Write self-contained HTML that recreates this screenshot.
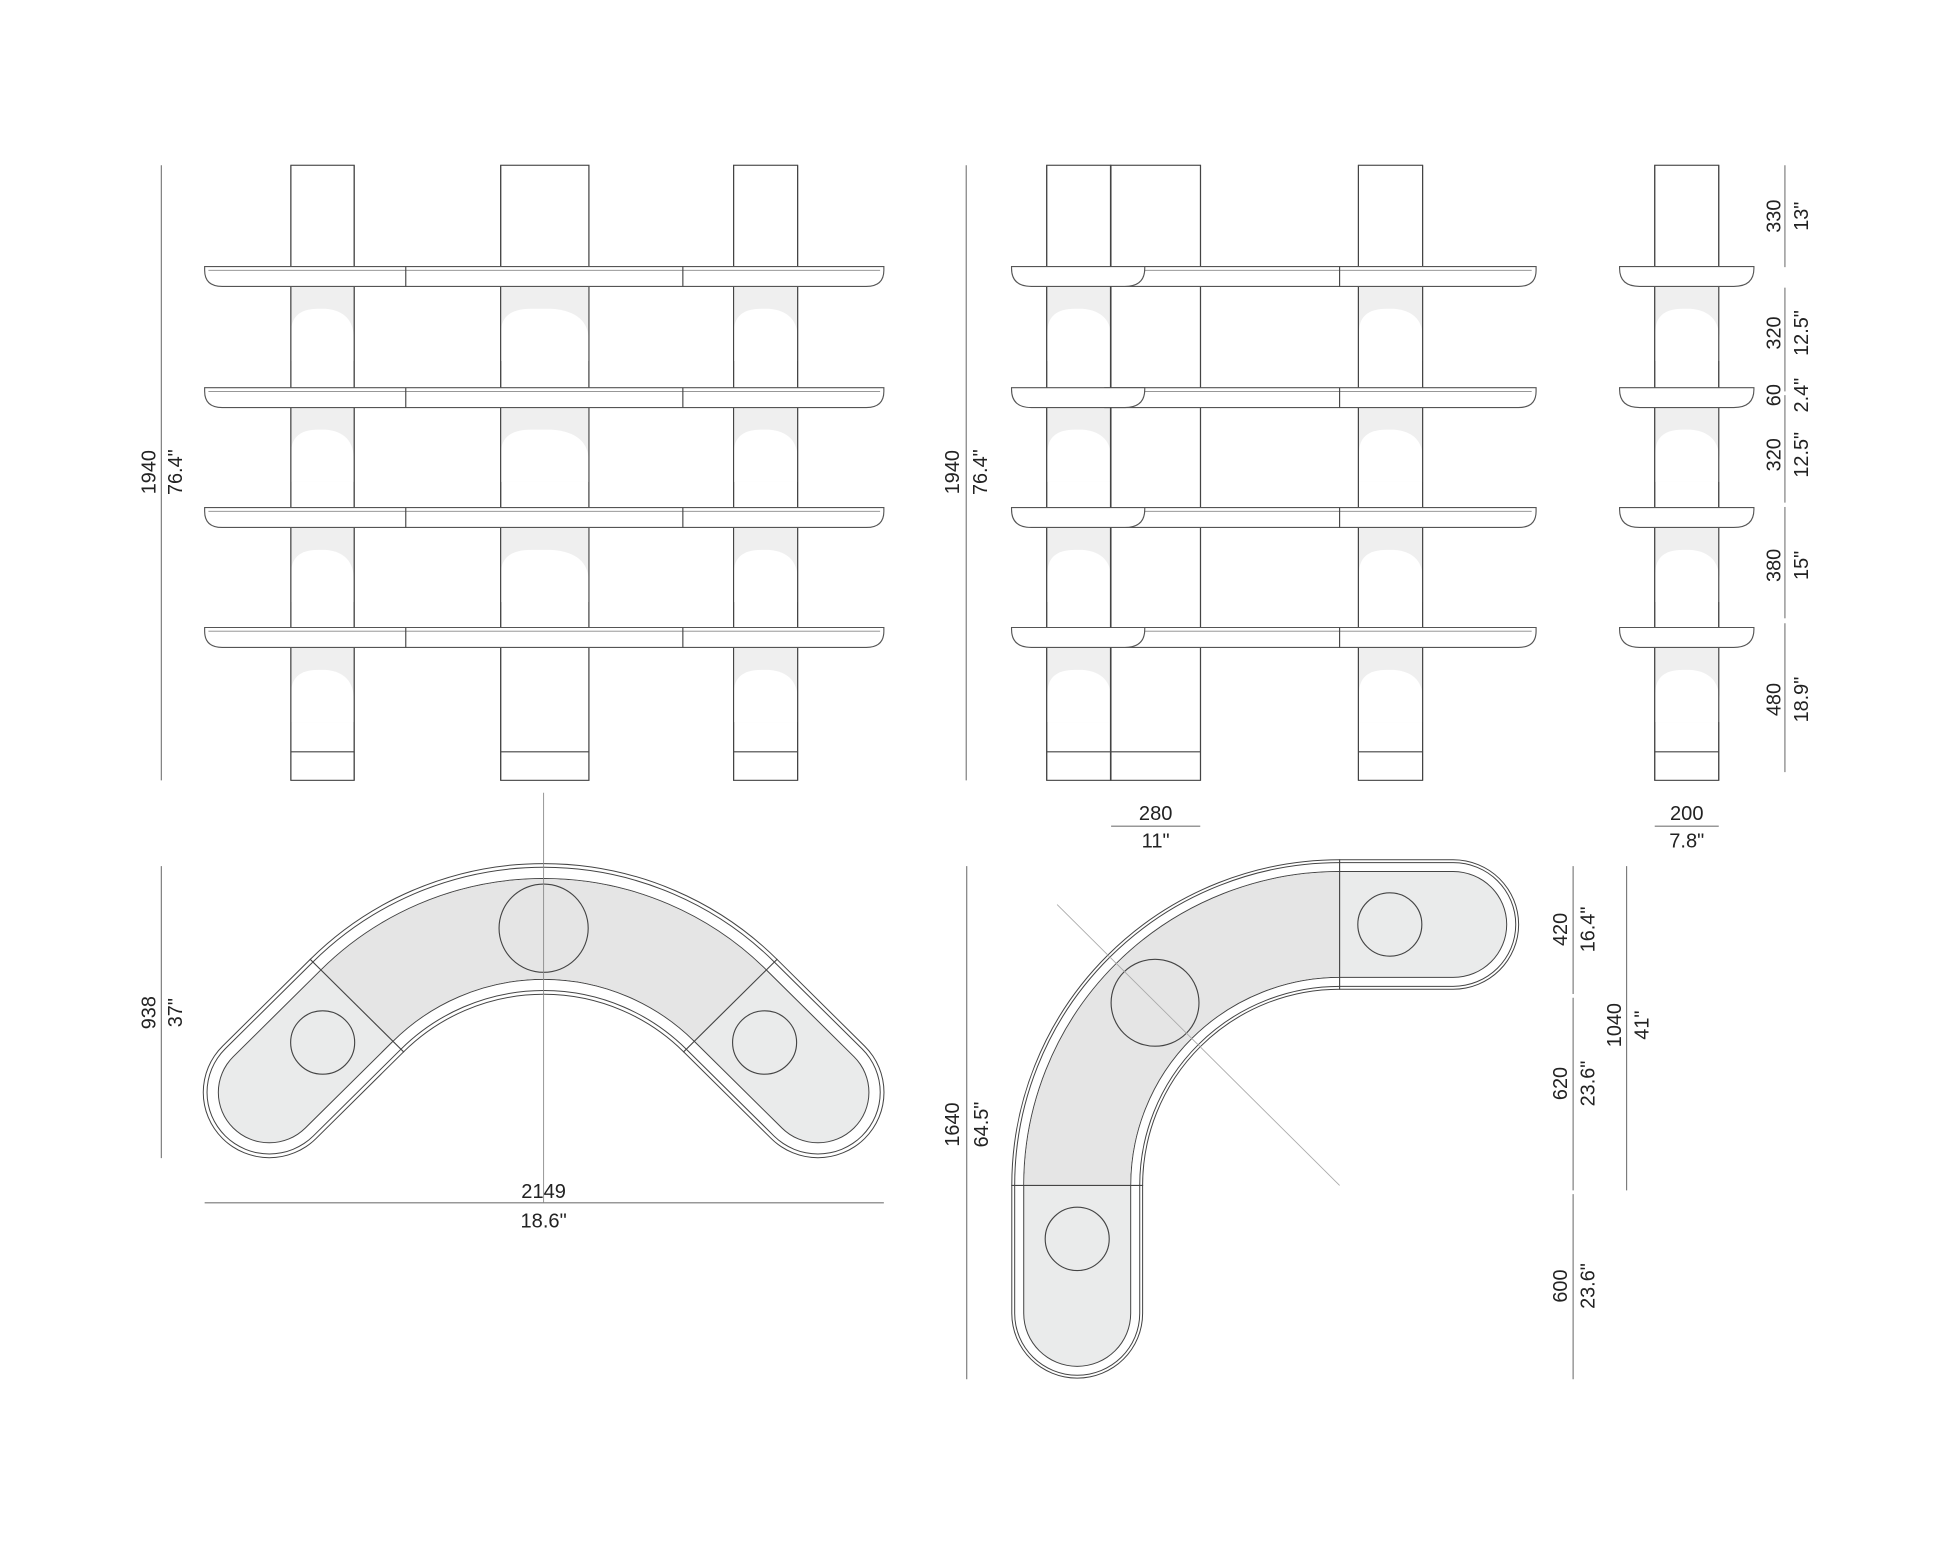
<!DOCTYPE html>
<html><head><meta charset="utf-8"><style>
html,body{margin:0;padding:0;background:#fff;}
svg{display:block;}
text{font-family:"Liberation Sans",sans-serif;font-size:16px;fill:#222;}
</style></head><body>
<svg width="1946" height="1547" viewBox="0 0 1550 1245" preserveAspectRatio="none" xmlns="http://www.w3.org/2000/svg">
<defs>
<g id="patch51">
 <rect x="0" y="0" width="51" height="60" fill="#efefef"/>
 <path d="M0,60 V37 Q0,18 22,18 H28 Q51,20 51,42 V60 Z" fill="#fff"/>
</g>
<g id="patch71">
 <rect x="0" y="0" width="70" height="60" fill="#efefef"/>
 <path d="M0,60 V37 Q0,18 24,18 H40 Q70,20 70,44 V60 Z" fill="#fff"/>
</g>
</defs>
<rect width="1550" height="1245" fill="#fff"/>
<g stroke="#444" stroke-width="0.9" fill="none">
 <rect x="231.7" y="133" width="50.4" height="495" fill="#fff"/>
 <rect x="398.8" y="133" width="70.3" height="495" fill="#fff"/>
 <rect x="584.3" y="133" width="51" height="495" fill="#fff"/>
</g>
<g>
 <use href="#patch51" transform="translate(231.8,230.5) scale(0.98,1)"/>
 <use href="#patch51" transform="translate(231.8,327.8) scale(0.98,1)"/>
 <use href="#patch51" transform="translate(231.8,424.5) scale(0.98,1)"/>
 <use href="#patch51" transform="translate(231.8,521.1) scale(0.98,1)"/>
 <use href="#patch71" transform="translate(399,230.5)"/>
 <use href="#patch71" transform="translate(399,327.8)"/>
 <use href="#patch71" transform="translate(399,424.5)"/>
 <use href="#patch51" transform="translate(584.4,230.5)"/>
 <use href="#patch51" transform="translate(584.4,327.8)"/>
 <use href="#patch51" transform="translate(584.4,424.5)"/>
 <use href="#patch51" transform="translate(584.4,521.1)"/>
</g>
<g stroke="#444" stroke-width="0.9" fill="none">
 <line x1="231.7" y1="605" x2="282.1" y2="605"/>
 <line x1="398.8" y1="605" x2="469.1" y2="605"/>
 <line x1="584.3" y1="605" x2="635.3" y2="605"/>
 <line x1="231.7" y1="133" x2="231.7" y2="628"/><line x1="282.1" y1="133" x2="282.1" y2="628"/>
 <line x1="398.8" y1="133" x2="398.8" y2="628"/><line x1="469.1" y1="133" x2="469.1" y2="628"/>
 <line x1="584.3" y1="133" x2="584.3" y2="628"/><line x1="635.3" y1="133" x2="635.3" y2="628"/>
</g>
<g stroke="#555" stroke-width="0.9" fill="#fff">
 <path d="M163,214.5 H704 V217.5 Q704,230.5 690,230.5 H177 Q163,230.5 163,217.5 Z"/>
 <path d="M163,312 H704 V315 Q704,328 690,328 H177 Q163,328 163,315 Z"/>
 <path d="M163,408.5 H704 V411.5 Q704,424.5 690,424.5 H177 Q163,424.5 163,411.5 Z"/>
 <path d="M163,505 H704 V508 Q704,521 690,521 H177 Q163,521 163,508 Z"/>
</g>
<g stroke="#888" stroke-width="0.7">
 <line x1="166" y1="217.5" x2="701" y2="217.5"/>
 <line x1="166" y1="315" x2="701" y2="315"/>
 <line x1="166" y1="411.5" x2="701" y2="411.5"/>
 <line x1="166" y1="508" x2="701" y2="508"/>
</g>
<g stroke="#444" stroke-width="0.9">
 <line x1="323.2" y1="214.5" x2="323.2" y2="230.5"/><line x1="543.9" y1="214.5" x2="543.9" y2="230.5"/>
 <line x1="323.2" y1="312" x2="323.2" y2="328"/><line x1="543.9" y1="312" x2="543.9" y2="328"/>
 <line x1="323.2" y1="408.5" x2="323.2" y2="424.5"/><line x1="543.9" y1="408.5" x2="543.9" y2="424.5"/>
 <line x1="323.2" y1="505" x2="323.2" y2="521"/><line x1="543.9" y1="505" x2="543.9" y2="521"/>
</g>

<g stroke="#444" stroke-width="0.9" fill="#fff">
 <rect x="833.7" y="133" width="51" height="495"/>
 <rect x="884.7" y="133" width="71.5" height="495"/>
 <rect x="1082" y="133" width="51.1" height="495"/>
 <rect x="1318" y="133" width="51" height="495"/>
</g>
<g>
 <use href="#patch51" transform="translate(834.2,230.5)"/>
 <use href="#patch51" transform="translate(834.2,327.8)"/>
 <use href="#patch51" transform="translate(834.2,424.5)"/>
 <use href="#patch51" transform="translate(834.2,521.1)"/>
 <use href="#patch51" transform="translate(1082.4,230.5)"/>
 <use href="#patch51" transform="translate(1082.4,327.8)"/>
 <use href="#patch51" transform="translate(1082.4,424.5)"/>
 <use href="#patch51" transform="translate(1082.4,521.1)"/>
 <use href="#patch51" transform="translate(1318.4,230.5)"/>
 <use href="#patch51" transform="translate(1318.4,327.8)"/>
 <use href="#patch51" transform="translate(1318.4,424.5)"/>
 <use href="#patch51" transform="translate(1318.4,521.1)"/>
</g>
<g stroke="#444" stroke-width="0.9" fill="none">
 <line x1="833.7" y1="133" x2="833.7" y2="628"/><line x1="884.7" y1="133" x2="884.7" y2="628" stroke-width="1.3"/>
 <line x1="956.2" y1="133" x2="956.2" y2="628"/>
 <line x1="1082" y1="133" x2="1082" y2="628"/><line x1="1133.1" y1="133" x2="1133.1" y2="628"/>
 <line x1="1318" y1="133" x2="1318" y2="628"/><line x1="1369" y1="133" x2="1369" y2="628"/>
 <line x1="833.7" y1="605" x2="956.2" y2="605"/>
 <line x1="1082" y1="605" x2="1133.1" y2="605"/>
 <line x1="1318" y1="605" x2="1369" y2="605"/>
</g>
<g stroke="#555" stroke-width="0.9" fill="#fff">
 <path d="M880,214.5 H1223.5 V217.5 Q1223.5,230.5 1209.5,230.5 H880 Z"/>
 <path d="M880,312 H1223.5 V315 Q1223.5,328 1209.5,328 H880 Z"/>
 <path d="M880,408.5 H1223.5 V411.5 Q1223.5,424.5 1209.5,424.5 H880 Z"/>
 <path d="M880,505 H1223.5 V508 Q1223.5,521 1209.5,521 H880 Z"/>
</g>
<g stroke="#888" stroke-width="0.7">
 <line x1="905" y1="217.5" x2="1220" y2="217.5"/>
 <line x1="905" y1="315" x2="1220" y2="315"/>
 <line x1="905" y1="411.5" x2="1220" y2="411.5"/>
 <line x1="905" y1="508" x2="1220" y2="508"/>
</g>
<g stroke="#444" stroke-width="0.9">
 <line x1="1067" y1="214.5" x2="1067" y2="230.5"/>
 <line x1="1067" y1="312" x2="1067" y2="328"/>
 <line x1="1067" y1="408.5" x2="1067" y2="424.5"/>
 <line x1="1067" y1="505" x2="1067" y2="521"/>
</g>
<g stroke="#555" stroke-width="0.9" fill="#fff">
 <path d="M805.7,214.5 H911.8 V216 Q911.8,230.5 896,230.5 H821.5 Q805.7,230.5 805.7,216 Z"/>
 <path d="M805.7,312 H911.8 V313.5 Q911.8,328 896,328 H821.5 Q805.7,328 805.7,313.5 Z"/>
 <path d="M805.7,408.5 H911.8 V410 Q911.8,424.5 896,424.5 H821.5 Q805.7,424.5 805.7,410 Z"/>
 <path d="M805.7,505 H911.8 V506.5 Q911.8,521 896,521 H821.5 Q805.7,521 805.7,506.5 Z"/>
 <path d="M1290,214.5 H1397 V216 Q1397,230.5 1381,230.5 H1306 Q1290,230.5 1290,216 Z"/>
 <path d="M1290,312 H1397 V313.5 Q1397,328 1381,328 H1306 Q1290,328 1290,313.5 Z"/>
 <path d="M1290,408.5 H1397 V410 Q1397,424.5 1381,424.5 H1306 Q1290,424.5 1290,410 Z"/>
 <path d="M1290,505 H1397 V506.5 Q1397,521 1381,521 H1306 Q1290,521 1290,506.5 Z"/>
</g>
<g stroke="#444" stroke-width="1.1">
 <line x1="884.7" y1="133" x2="884.7" y2="214.5"/>
 <line x1="884.7" y1="230.5" x2="884.7" y2="312"/>
 <line x1="884.7" y1="328" x2="884.7" y2="408.5"/>
 <line x1="884.7" y1="424.5" x2="884.7" y2="505"/>
 <line x1="884.7" y1="521" x2="884.7" y2="628"/>
</g>

<g stroke="#777" stroke-width="0.9">
 <line x1="128.5" y1="133" x2="128.5" y2="628"/>
 <line x1="769.6" y1="133" x2="769.6" y2="628"/>
 <line x1="1421.7" y1="133" x2="1421.7" y2="215"/>
 <line x1="1421.7" y1="231.5" x2="1421.7" y2="315"/>
 <line x1="1421.7" y1="318" x2="1421.7" y2="404.5"/>
 <line x1="1421.7" y1="408" x2="1421.7" y2="497.6"/>
 <line x1="1421.7" y1="501.6" x2="1421.7" y2="621.4"/>
 <line x1="885" y1="664.9" x2="956" y2="664.9"/>
 <line x1="1318" y1="664.9" x2="1369" y2="664.9"/>
 <line x1="163" y1="968" x2="704" y2="968"/>
 <line x1="128.5" y1="697" x2="128.5" y2="932"/>
 <line x1="770" y1="697" x2="770" y2="1110"/>
 <line x1="1253" y1="697" x2="1253" y2="800"/>
 <line x1="1253" y1="803" x2="1253" y2="958"/>
 <line x1="1253" y1="961" x2="1253" y2="1110"/>
 <line x1="1295.6" y1="697" x2="1295.6" y2="958"/>
</g>

<g transform="translate(0,5)">
<g fill="none">
 <path d="M214.5,874.1 L284.3,804.3 A210,210 0 0 1 581.7,804.3 L651.5,874.1" stroke="#444" stroke-width="106" stroke-linecap="round"/>
 <path d="M214.5,874.1 L284.3,804.3 A210,210 0 0 1 581.7,804.3 L651.5,874.1" stroke="#fff" stroke-width="104.4" stroke-linecap="round"/>
 <path d="M214.5,874.1 L284.3,804.3 A210,210 0 0 1 581.7,804.3 L651.5,874.1" stroke="#444" stroke-width="100" stroke-linecap="round"/>
 <path d="M214.5,874.1 L284.3,804.3 A210,210 0 0 1 581.7,804.3 L651.5,874.1" stroke="#fff" stroke-width="98.4" stroke-linecap="round"/>
 <path d="M214.5,874.1 L284.3,804.3 A210,210 0 0 1 581.7,804.3 L651.5,874.1" stroke="#444" stroke-width="82" stroke-linecap="round"/>
 <path d="M214.5,874.1 L284.3,804.3 A210,210 0 0 1 581.7,804.3 L651.5,874.1" stroke="#eaebeb" stroke-width="80.4" stroke-linecap="round"/>
 <path d="M284.3,804.3 A210,210 0 0 1 581.7,804.3" stroke="#e5e5e5" stroke-width="80.4" stroke-linecap="butt"/>
</g>
<g stroke="#444" stroke-width="0.9" fill="none">
 <line x1="246.8" y1="766.8" x2="321.8" y2="841.8"/>
 <line x1="619.2" y1="766.8" x2="544.2" y2="841.8"/>
 <circle cx="433" cy="742" r="35.5"/>
 <circle cx="257" cy="834" r="25.5"/>
 <circle cx="609" cy="834" r="25.5"/>
</g>
</g>
<line x1="433" y1="638" x2="433" y2="968" stroke="#888" stroke-width="0.7"/>

<g transform="translate(0,3)">
<g fill="none">
 <path d="M858,1054 L858,951 A209,210 0 0 1 1067,741 L1157.5,741" stroke="#444" stroke-width="105" stroke-linecap="round"/>
 <path d="M858,1054 L858,951 A209,210 0 0 1 1067,741 L1157.5,741" stroke="#fff" stroke-width="103.4" stroke-linecap="round"/>
 <path d="M858,1054 L858,951 A209,210 0 0 1 1067,741 L1157.5,741" stroke="#444" stroke-width="100.4" stroke-linecap="round"/>
 <path d="M858,1054 L858,951 A209,210 0 0 1 1067,741 L1157.5,741" stroke="#fff" stroke-width="98.8" stroke-linecap="round"/>
 <path d="M858,1054 L858,951 A209,210 0 0 1 1067,741 L1157.5,741" stroke="#444" stroke-width="86" stroke-linecap="round"/>
 <path d="M858,1054 L858,951 A209,210 0 0 1 1067,741 L1157.5,741" stroke="#eaebeb" stroke-width="84.4" stroke-linecap="round"/>
 <path d="M858,951 A209,210 0 0 1 1067,741" stroke="#e5e5e5" stroke-width="84.4" stroke-linecap="butt"/>
</g>
<g stroke="#444" stroke-width="0.9" fill="none">
 <line x1="1067" y1="688.5" x2="1067" y2="793.5"/>
 <line x1="805.5" y1="951" x2="910.5" y2="951"/>
 <circle cx="920" cy="804" r="35"/>
 <circle cx="1107" cy="741" r="25.5"/>
 <circle cx="858" cy="994" r="25.5"/>
</g>
<line x1="842" y1="725" x2="1067" y2="951" stroke="#aaa" stroke-width="0.7"/>
</g>

<g text-anchor="middle">
 <text transform="translate(124,380) rotate(-90)">1940</text>
 <text transform="translate(145,380) rotate(-90)">76.4"</text>
 <text transform="translate(764,380) rotate(-90)">1940</text>
 <text transform="translate(786,380) rotate(-90)">76.4"</text>
 <text transform="translate(1418,174) rotate(-90)">330</text>
 <text transform="translate(1440,174) rotate(-90)">13"</text>
 <text transform="translate(1418,268) rotate(-90)">320</text>
 <text transform="translate(1440,268) rotate(-90)">12.5"</text>
 <text transform="translate(1418,318) rotate(-90)">60</text>
 <text transform="translate(1440,318) rotate(-90)">2.4"</text>
 <text transform="translate(1418,366) rotate(-90)">320</text>
 <text transform="translate(1440,366) rotate(-90)">12.5"</text>
 <text transform="translate(1418,455) rotate(-90)">380</text>
 <text transform="translate(1440,455) rotate(-90)">15"</text>
 <text transform="translate(1418,563) rotate(-90)">480</text>
 <text transform="translate(1440,563) rotate(-90)">18.9"</text>
 <text x="920.5" y="660">280</text>
 <text x="920.5" y="682">11"</text>
 <text x="1343.5" y="660">200</text>
 <text x="1343.5" y="682">7.8"</text>
 <text x="433" y="964">2149</text>
 <text x="433" y="988">18.6"</text>
 <text transform="translate(124,815) rotate(-90)">938</text>
 <text transform="translate(145,815) rotate(-90)">37"</text>
 <text transform="translate(764,905) rotate(-90)">1640</text>
 <text transform="translate(787,905) rotate(-90)">64.5"</text>
 <text transform="translate(1248,748) rotate(-90)">420</text>
 <text transform="translate(1270,748) rotate(-90)">16.4"</text>
 <text transform="translate(1248,872) rotate(-90)">620</text>
 <text transform="translate(1270,872) rotate(-90)">23.6"</text>
 <text transform="translate(1248,1035) rotate(-90)">600</text>
 <text transform="translate(1270,1035) rotate(-90)">23.6"</text>
 <text transform="translate(1291,825) rotate(-90)">1040</text>
 <text transform="translate(1313,825) rotate(-90)">41"</text>
</g>
</svg>
</body></html>
